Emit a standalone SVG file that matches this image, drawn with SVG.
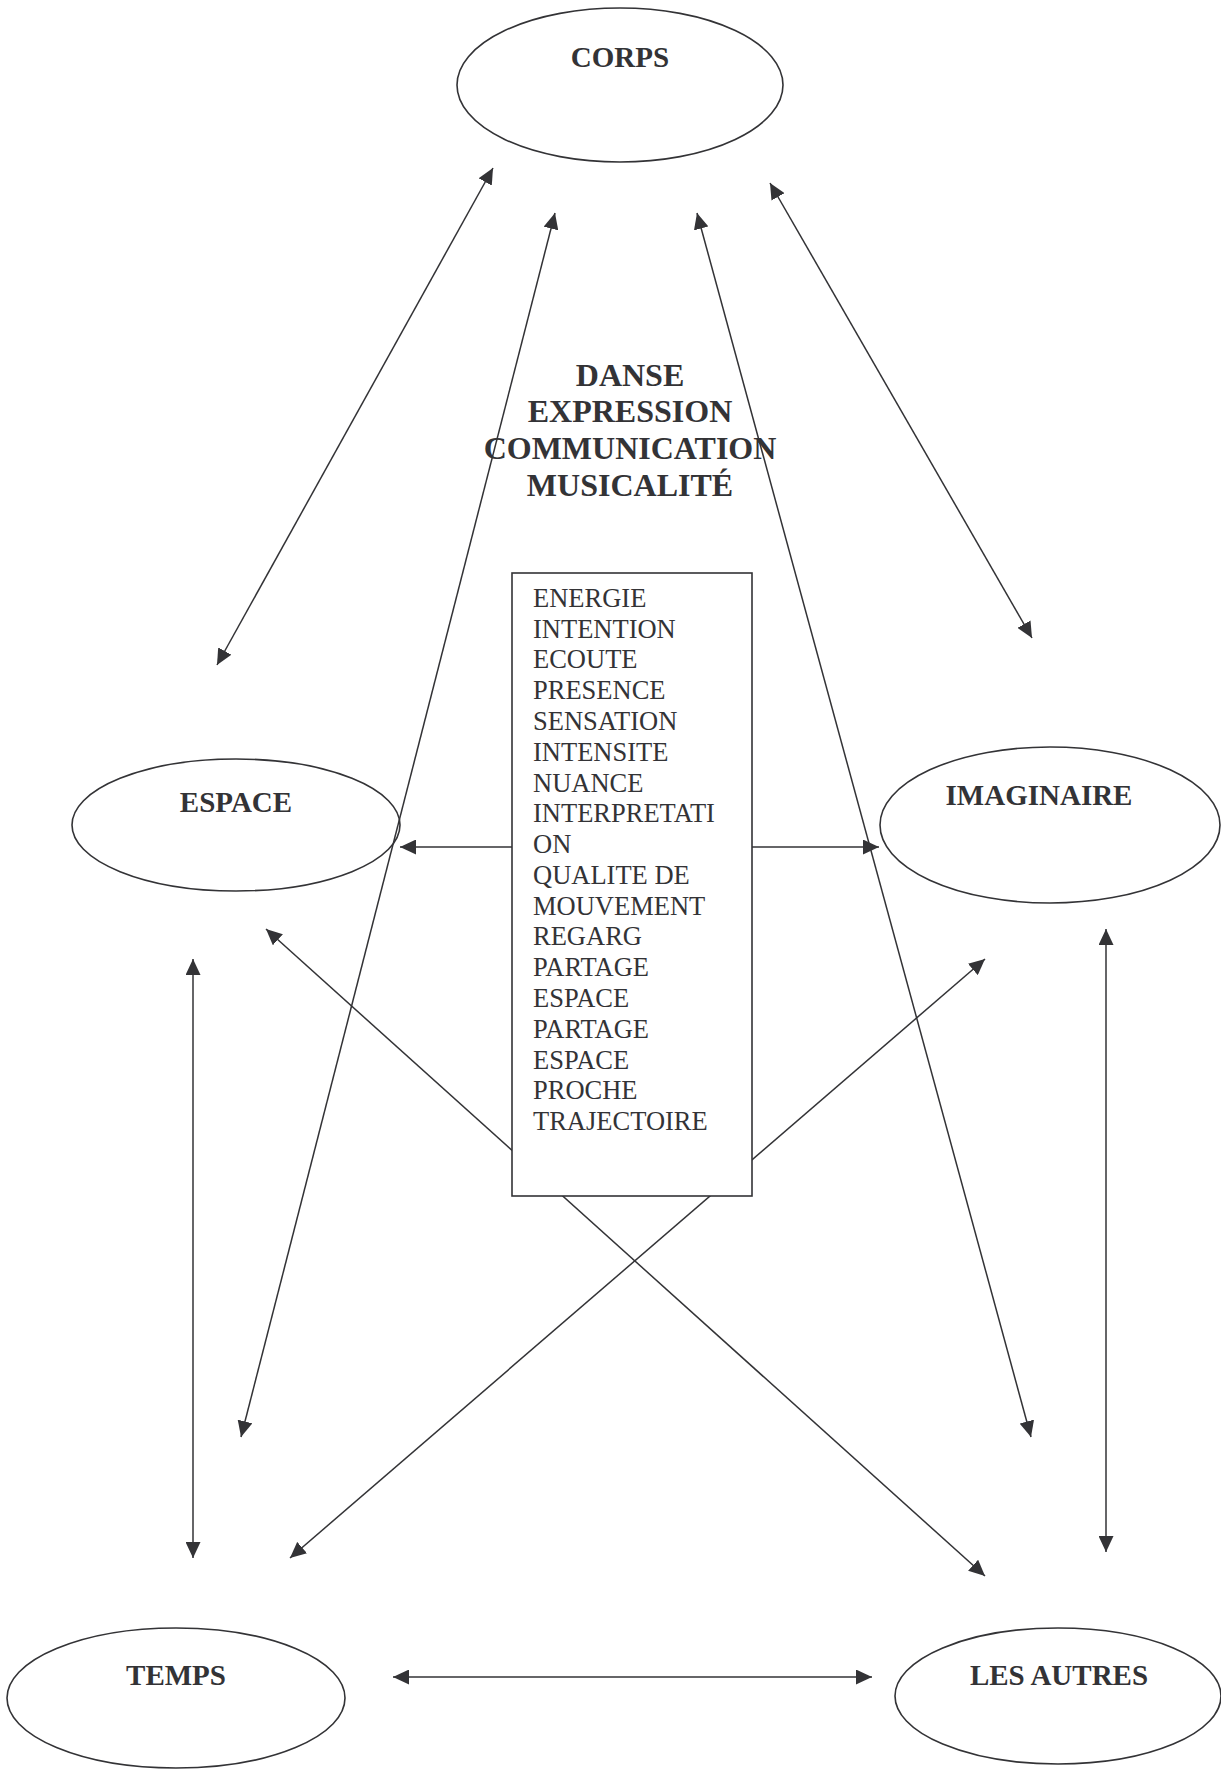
<svg xmlns="http://www.w3.org/2000/svg" width="1221" height="1769" viewBox="0 0 1221 1769">
<style>
.bg{fill:#ffffff}
.conn line{stroke:#333336;stroke-width:1.5;fill:none}
.ell{fill:none;stroke:#333336;stroke-width:1.6}
.box{fill:#ffffff;stroke:#333336;stroke-width:1.6}
.lbl{font-family:"Liberation Serif","Times New Roman",serif;font-weight:bold;font-size:29px;fill:#333336;text-anchor:middle}
.big{font-family:"Liberation Serif","Times New Roman",serif;font-weight:bold;font-size:32px;fill:#333336;text-anchor:middle}
.lst{font-family:"Liberation Serif","Times New Roman",serif;font-size:26.5px;fill:#333336}
</style>
<defs>
<marker id="ah" markerUnits="userSpaceOnUse" markerWidth="16" markerHeight="15" refX="16" refY="7.5" orient="auto-start-reverse">
<path d="M0,0 L16,7.5 L0,15 z" fill="#333336"/>
</marker>
</defs>
<rect class="bg" x="0" y="0" width="1221" height="1769"/>
<g id="connectors" class="conn">
<line x1="493" y1="168" x2="217" y2="665" marker-start="url(#ah)" marker-end="url(#ah)"/>
<line x1="555" y1="213" x2="241" y2="1437" marker-start="url(#ah)" marker-end="url(#ah)"/>
<line x1="697" y1="213" x2="1031" y2="1437" marker-start="url(#ah)" marker-end="url(#ah)"/>
<line x1="770" y1="183" x2="1032" y2="638" marker-start="url(#ah)" marker-end="url(#ah)"/>
<line x1="266" y1="929" x2="985" y2="1576" marker-start="url(#ah)" marker-end="url(#ah)"/>
<line x1="290" y1="1558" x2="985" y2="959" marker-start="url(#ah)" marker-end="url(#ah)"/>
<line x1="193" y1="959" x2="193" y2="1558" marker-start="url(#ah)" marker-end="url(#ah)"/>
<line x1="1106" y1="929" x2="1106" y2="1552" marker-start="url(#ah)" marker-end="url(#ah)"/>
<line x1="393" y1="1677" x2="872" y2="1677" marker-start="url(#ah)" marker-end="url(#ah)"/>
<line x1="512" y1="847" x2="400" y2="847" marker-end="url(#ah)"/>
<line x1="752" y1="847" x2="879" y2="847" marker-end="url(#ah)"/>
</g>
<g id="corps">
<ellipse class="ell" cx="620" cy="85" rx="163" ry="77"/>
<text class="lbl" x="620" y="67">CORPS</text>
</g>
<g id="espace">
<ellipse class="ell" cx="236" cy="825" rx="164" ry="66"/>
<text class="lbl" x="236" y="812">ESPACE</text>
</g>
<g id="imaginaire">
<ellipse class="ell" cx="1050" cy="825" rx="170" ry="78"/>
<text class="lbl" x="1039" y="805">IMAGINAIRE</text>
</g>
<g id="temps">
<ellipse class="ell" cx="176" cy="1698" rx="169" ry="70"/>
<text class="lbl" x="176" y="1685">TEMPS</text>
</g>
<g id="les-autres">
<ellipse class="ell" cx="1058" cy="1696" rx="163" ry="68"/>
<text class="lbl" x="1059" y="1685">LES AUTRES</text>
</g>
<g id="danse">
<text class="big" x="630" y="386">DANSE</text>
<text class="big" x="630" y="422">EXPRESSION</text>
<text class="big" x="630" y="459">COMMUNICATION</text>
<text class="big" x="630" y="496">MUSICALITÉ</text>
</g>
<g id="qualites">
<rect class="box" x="512" y="573" width="240" height="623"/>
<text class="lst" x="533" y="607">ENERGIE</text>
<text class="lst" x="533" y="638">INTENTION</text>
<text class="lst" x="533" y="668">ECOUTE</text>
<text class="lst" x="533" y="699">PRESENCE</text>
<text class="lst" x="533" y="730">SENSATION</text>
<text class="lst" x="533" y="761">INTENSITE</text>
<text class="lst" x="533" y="792">NUANCE</text>
<text class="lst" x="533" y="822">INTERPRETATI</text>
<text class="lst" x="533" y="853">ON</text>
<text class="lst" x="533" y="884">QUALITE DE</text>
<text class="lst" x="533" y="915">MOUVEMENT</text>
<text class="lst" x="533" y="945">REGARG</text>
<text class="lst" x="533" y="976">PARTAGE</text>
<text class="lst" x="533" y="1007">ESPACE</text>
<text class="lst" x="533" y="1038">PARTAGE</text>
<text class="lst" x="533" y="1069">ESPACE</text>
<text class="lst" x="533" y="1099">PROCHE</text>
<text class="lst" x="533" y="1130">TRAJECTOIRE</text>
</g>
</svg>
